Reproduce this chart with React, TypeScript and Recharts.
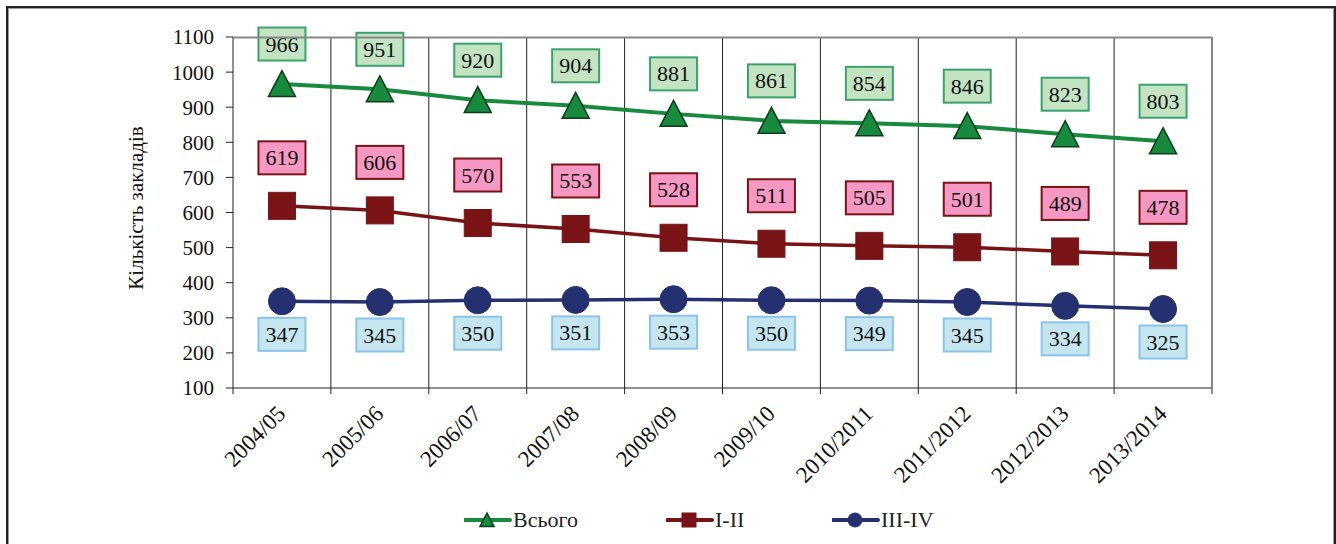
import React from "react";
import { LineChart, Line, XAxis, YAxis, CartesianGrid, LabelList } from "recharts";

const years = [
  "2004/05", "2005/06", "2006/07", "2007/08", "2008/09",
  "2009/10", "2010/2011", "2011/2012", "2012/2013", "2013/2014",
];
const total = [966, 951, 920, 904, 881, 861, 854, 846, 823, 803];
const levelI = [619, 606, 570, 553, 528, 511, 505, 501, 489, 478];
const levelIII = [347, 345, 350, 351, 353, 350, 349, 345, 334, 325];
const yTicks = [100, 200, 300, 400, 500, 600, 700, 800, 900, 1000, 1100];

const data = years.map((y, i) => ({
  year: y,
  total: total[i],
  levelI: levelI[i],
  levelIII: levelIII[i],
}));

const W = 1336;
const H = 544;
const margin = { top: 37, right: 124, left: 163, bottom: 0 };
const Y_W = 70;
const X_H = 156;
const plotLeft = margin.left + Y_W;
const plotW = W - plotLeft - margin.right;
const band = plotW / years.length;
const plotBottom = H - X_H;

const FONT = "Liberation Serif, Times New Roman, serif";

const GREEN = "#178a3e";
const RED = "#7a1316";
const BLUE = "#253070";

function Triangle({ cx, cy, size = 13.5 }: any) {
  if (cx == null || cy == null) return null;
  const s = size;
  return (
    <polygon
      points={`${cx},${cy - s} ${cx - s},${cy + s * 0.92} ${cx + s},${cy + s * 0.92}`}
      fill={GREEN}
      stroke="#0b3d1b"
      strokeWidth={1.5}
    />
  );
}

function Square({ cx, cy, size = 13.5 }: any) {
  if (cx == null || cy == null) return null;
  const s = size;
  return <rect x={cx - s} y={cy - s} width={s * 2} height={s * 2} fill={RED} stroke={RED} />;
}

function Circle({ cx, cy, size = 13.5 }: any) {
  if (cx == null || cy == null) return null;
  return <circle cx={cx} cy={cy} r={size} fill={BLUE} stroke={BLUE} />;
}

function boxLabel(fill: string, stroke: string, dy: number) {
  return (props: any) => {
    const { x, y, value } = props;
    const w = 47;
    const h = 33;
    const cy = y + dy;
    return (
      <g>
        <rect x={x - w / 2} y={cy - h / 2} width={w} height={h} fill={fill} stroke={stroke} strokeWidth={2} />
        <text x={x} y={cy + 7.5} textAnchor="middle" fontFamily={FONT} fontSize={22} fill="#111">
          {value}
        </text>
      </g>
    );
  };
}

function XTick(props: any) {
  const { x, payload, index } = props;
  const y = plotBottom;
  return (
    <g>
      <line x1={x - band / 2} x2={x - band / 2} y1={y} y2={y + 6} stroke="#222" />
      {index === years.length - 1 && (
        <line x1={x + band / 2} x2={x + band / 2} y1={y} y2={y + 6} stroke="#222" />
      )}
      <text
        transform={`translate(${x + 5},${y + 27}) rotate(-45)`}
        textAnchor="end"
        fontFamily={FONT}
        fontSize={23}
        fill="#111"
      >
        {payload.value}
      </text>
    </g>
  );
}

function LegendItem({ label, color, marker, left }: any) {
  return (
    <div style={{ position: "absolute", left, top: 507, display: "flex", alignItems: "center" }}>
      <svg width={48} height={26}>
        <line x1={1} x2={46} y1={13} y2={13} stroke={color} strokeWidth={4} strokeLinecap="round" />
        {marker === "tri" && <Triangle cx={23} cy={13} size={7} />}
        {marker === "sq" && <Square cx={23} cy={13} size={7} />}
        {marker === "circ" && <Circle cx={23} cy={13} size={7} />}
      </svg>
      <span style={{ fontFamily: FONT, fontSize: 22, color: "#222", marginLeft: 1 }}>{label}</span>
    </div>
  );
}

export default function App() {
  return (
    <div style={{ position: "absolute", left: 0, top: 0, width: W, height: H, background: "#fff", overflow: "hidden" }}>
      <div
        style={{
          position: "absolute",
          left: 6,
          top: 6,
          width: 1326,
          height: 560,
          border: "2px solid #222",
          boxShadow: "inset 0 0 0 1px #999",
        }}
      />
      <div
        style={{
          position: "absolute",
          left: 136,
          top: 208,
          transform: "translate(-50%, -50%) rotate(-90deg)",
          fontFamily: FONT,
          fontSize: 21,
          color: "#111",
          whiteSpace: "nowrap",
        }}
      >
        Кількість закладів
      </div>
      <div style={{ position: "absolute", left: 0, top: 0 }}>
        <LineChart width={W} height={H} data={data} margin={margin}>
          <CartesianGrid
            horizontal={false}
            stroke="#222"
            verticalCoordinatesGenerator={() => years.slice(1).map((_, i) => plotLeft + band * (i + 1))}
          />
          <XAxis
            dataKey="year"
            height={X_H}
            interval={0}
            padding={{ left: band / 2, right: band / 2 }}
            tickLine={false}
            tick={<XTick />}
            axisLine={{ stroke: "#222" }}
          />
          <YAxis
            width={Y_W}
            domain={[100, 1100]}
            ticks={yTicks}
            interval={0}
            tickSize={7}
            tickMargin={12}
            axisLine={{ stroke: "#222" }}
            tickLine={{ stroke: "#222" }}
            tick={{ fontFamily: FONT, fontSize: 21, fill: "#111" }}
          />
          <Line
            dataKey="total"
            stroke={GREEN}
            strokeWidth={4}
            dot={<Triangle />}
            activeDot={false}
            isAnimationActive={false}
          >
            <LabelList dataKey="total" content={boxLabel("#c3e3c3", "#3aa36c", -40)} />
          </Line>
          <Line
            dataKey="levelI"
            stroke={RED}
            strokeWidth={3.5}
            dot={<Square />}
            activeDot={false}
            isAnimationActive={false}
          >
            <LabelList dataKey="levelI" content={boxLabel("#f598c3", RED, -48)} />
          </Line>
          <Line
            dataKey="levelIII"
            stroke={BLUE}
            strokeWidth={3.5}
            dot={<Circle />}
            activeDot={false}
            isAnimationActive={false}
          >
            <LabelList dataKey="levelIII" content={boxLabel("#c5e6ee", "#8cc3ea", 33)} />
          </Line>
        </LineChart>
        <svg
          style={{ position: "absolute", left: 0, top: 0, pointerEvents: "none" }}
          width={W}
          height={H}
        >
          <line x1={plotLeft} x2={plotLeft + plotW} y1={margin.top + 0.5} y2={margin.top + 0.5} stroke="#888" strokeWidth={2} />
          <line x1={plotLeft + plotW} x2={plotLeft + plotW} y1={margin.top} y2={plotBottom} stroke="#888" strokeWidth={2} />
        </svg>
      </div>
      <LegendItem label="Всього" color={GREEN} marker="tri" left={464} />
      <LegendItem label="I-II" color={RED} marker="sq" left={666} />
      <LegendItem label="III-IV" color={BLUE} marker="circ" left={832} />
    </div>
  );
}
